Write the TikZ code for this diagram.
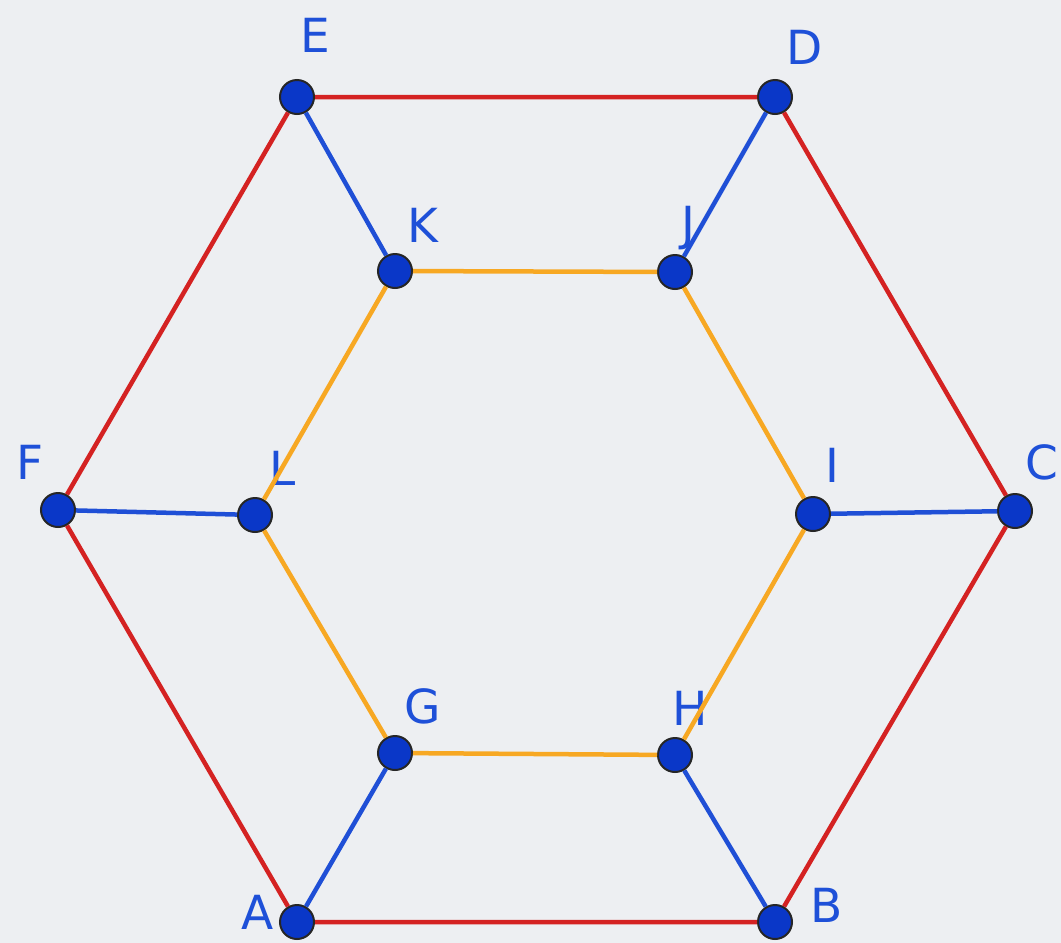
\documentclass[tikz,border=0pt]{standalone}
\usepackage{fontspec}
\setmainfont{DejaVu Sans}
\definecolor{bgcol}{HTML}{EDEFF2}
\definecolor{outercol}{HTML}{D42222}
\definecolor{spokecol}{HTML}{1F4FD6}
\definecolor{innercol}{HTML}{F7A823}
\definecolor{dotcol}{HTML}{0A37C8}
\definecolor{lblcol}{HTML}{1E50D8}
\tikzset{
  vertex/.style={circle,fill=dotcol,draw=black!85,line width=2pt,minimum size=34pt,inner sep=0pt},
  lbl/.style={text=lblcol,font=\fontsize{47}{47}\selectfont,inner sep=0pt},
  outer/.style={outercol,line width=4.5pt},
  spoke/.style={spokecol,line width=4.5pt},
  inner/.style={innercol,line width=4.5pt}
}
\begin{document}
\begin{tikzpicture}[x=1pt,y=-1pt]
            \useasboundingbox (0,0) rectangle (1061,943);
            \fill[bgcol] (0,0) rectangle (1061,943);
            % outer hexagon
            \node[vertex] (A) at (297,922) {};
            \node[vertex] (B) at (775,922) {};
            \node[vertex] (C) at (1015,511) {};
            \node[vertex] (D) at (775,97) {};
            \node[vertex] (E) at (297,97) {};
            \node[vertex] (F) at (58,510) {};
            % inner hexagon
            \node[vertex] (G) at (395,753) {};
            \node[vertex] (H) at (675,755) {};
            \node[vertex] (I) at (813,514) {};
            \node[vertex] (J) at (675,272) {};
            \node[vertex] (K) at (395,271) {};
            \node[vertex] (L) at (255,515) {};
            % labels
            \node[lbl] (lA) at (258,912) {A};
            \node[lbl] (lB) at (827,905) {B};
            \node[lbl] (lC) at (1042,462) {C};
            \node[lbl] (lD) at (805,47) {D};
            \node[lbl] (lE) at (315,35) {E};
            \node[lbl] (lF) at (30,462) {F};
            \node[lbl] (lG) at (423,706) {G};
            \node[lbl] (lH) at (690,708) {H};
            \node[lbl] (lI) at (832,465) {I};
            \node[lbl] (lJ) at (688,228) {J};
            \node[lbl] (lK) at (423,225) {K};
            \node[lbl] (lL) at (283,468) {L};
            % edges
            \draw[outer] (A) -- (B) -- (C) -- (D) -- (E) -- (F) -- (A);
            \draw[inner] (G) -- (H) -- (I) -- (J) -- (K) -- (L) -- (G);
            \draw[spoke] (A) -- (G);
            \draw[spoke] (B) -- (H);
            \draw[spoke] (C) -- (I);
            \draw[spoke] (D) -- (J);
            \draw[spoke] (E) -- (K);
            \draw[spoke] (F) -- (L);
        \end{tikzpicture}
\end{document}
